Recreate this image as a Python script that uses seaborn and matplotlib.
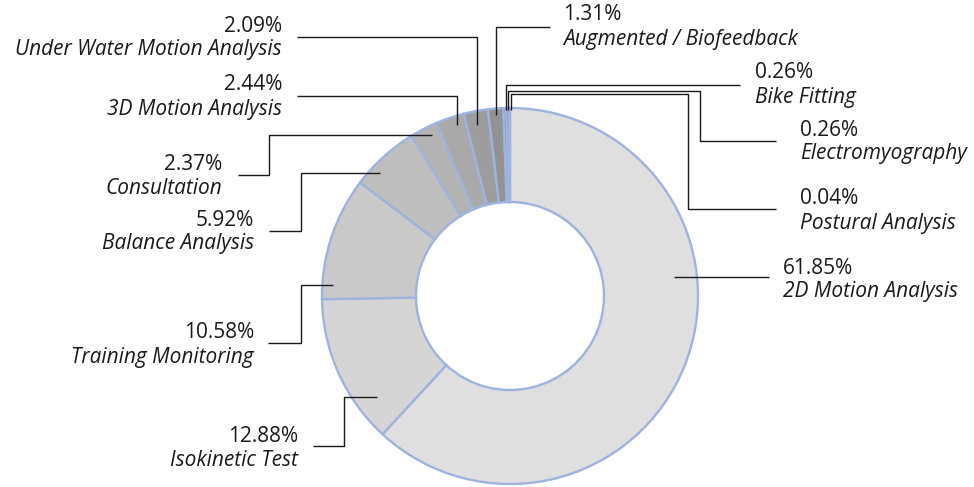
import matplotlib
matplotlib.use("Agg")
import matplotlib.pyplot as plt
import seaborn as sns

sns.set_theme(style="white")
plt.rcParams["font.family"] = ["Open Sans", "DejaVu Sans"]

W, H = 974, 487

categories = [
    "2D Motion Analysis", "Isokinetic Test", "Training Monitoring",
    "Balance Analysis", "Consultation", "3D Motion Analysis",
    "Under Water Motion Analysis", "Augmented / Biofeedback",
    "Bike Fitting", "Electromyography", "Postural Analysis",
]
shares = [61.85, 12.88, 10.58, 5.92, 2.37, 2.44, 2.09, 1.31, 0.26, 0.26, 0.04]
share_labels = ["61.85%", "12.88%", "10.58%", "5.92%", "2.37%", "2.44%",
                "2.09%", "1.31%", "0.26%", "0.26%", "0.04%"]

greys = ["#dfdfdf", "#d5d5d5", "#c9c9c9", "#bebebe", "#b3b3b3", "#a8a9a8",
         "#9d9d9d", "#929292", "#888888", "#7e7e7e", "#747474"]
edge = "#9fb3df"
ink = "#1a1a1a"

# label layout in pixel coords: (x, y of first line, alignment)
label_pos = {
    "2D Motion Analysis": (783, 268, "left"),
    "Isokinetic Test": (298, 436, "right"),
    "Training Monitoring": (254, 333, "right"),
    "Balance Analysis": (254, 220, "right"),
    "Consultation": (222, 164, "right"),
    "3D Motion Analysis": (282, 85, "right"),
    "Under Water Motion Analysis": (282, 26, "right"),
    "Augmented / Biofeedback": (563, 15, "left"),
    "Bike Fitting": (755, 73, "left"),
    "Electromyography": (800, 130, "left"),
    "Postural Analysis": (800, 199, "left"),
}

# leader line paths in pixel coords
leaders = {
    "2D Motion Analysis": [(769, 277), (674, 277)],
    "Isokinetic Test": [(313, 446), (344, 446), (344, 397), (377, 397)],
    "Training Monitoring": [(268, 343), (301, 343), (301, 285), (333, 285)],
    "Balance Analysis": [(269, 231), (301, 231), (301, 173), (380, 173)],
    "Consultation": [(238, 175), (269, 175), (269, 135), (432, 135)],
    "3D Motion Analysis": [(297, 96), (457, 96), (457, 125)],
    "Under Water Motion Analysis": [(297, 37), (477, 37), (477, 125)],
    "Augmented / Biofeedback": [(550, 27), (496, 27), (496, 115)],
    "Bike Fitting": [(740, 85), (506, 85), (506, 110)],
    "Electromyography": [(776, 141), (700, 141), (700, 91), (508, 91), (508, 110)],
    "Postural Analysis": [(776, 209), (688, 209), (688, 94), (511, 94), (511, 110)],
}


def flip(y):
    return H - y


fig = plt.figure(figsize=(W / 100, H / 100), dpi=100)
ax = fig.add_axes([0, 0, 1, 1])

ax.pie(shares, colors=greys, startangle=90, counterclock=False,
       center=(510, flip(296)), radius=188, frame=True,
       wedgeprops=dict(width=94, edgecolor=edge, linewidth=1.7))
ax.set_xlim(0, W)
ax.set_ylim(0, H)
ax.set_aspect("equal")
ax.axis("off")

for name, pct in zip(categories, share_labels):
    pts = leaders[name]
    ax.plot([p[0] for p in pts], [flip(p[1]) for p in pts],
            color=ink, linewidth=1.0, solid_capstyle="butt", zorder=5)
    x, y, ha = label_pos[name]
    ax.text(x, flip(y), pct, ha=ha, va="center", fontsize=15, color=ink)
    ax.text(x, flip(y + 24), name, ha=ha, va="center", fontsize=15,
            color=ink, style="italic")

fig.savefig("out.png", dpi=100)
